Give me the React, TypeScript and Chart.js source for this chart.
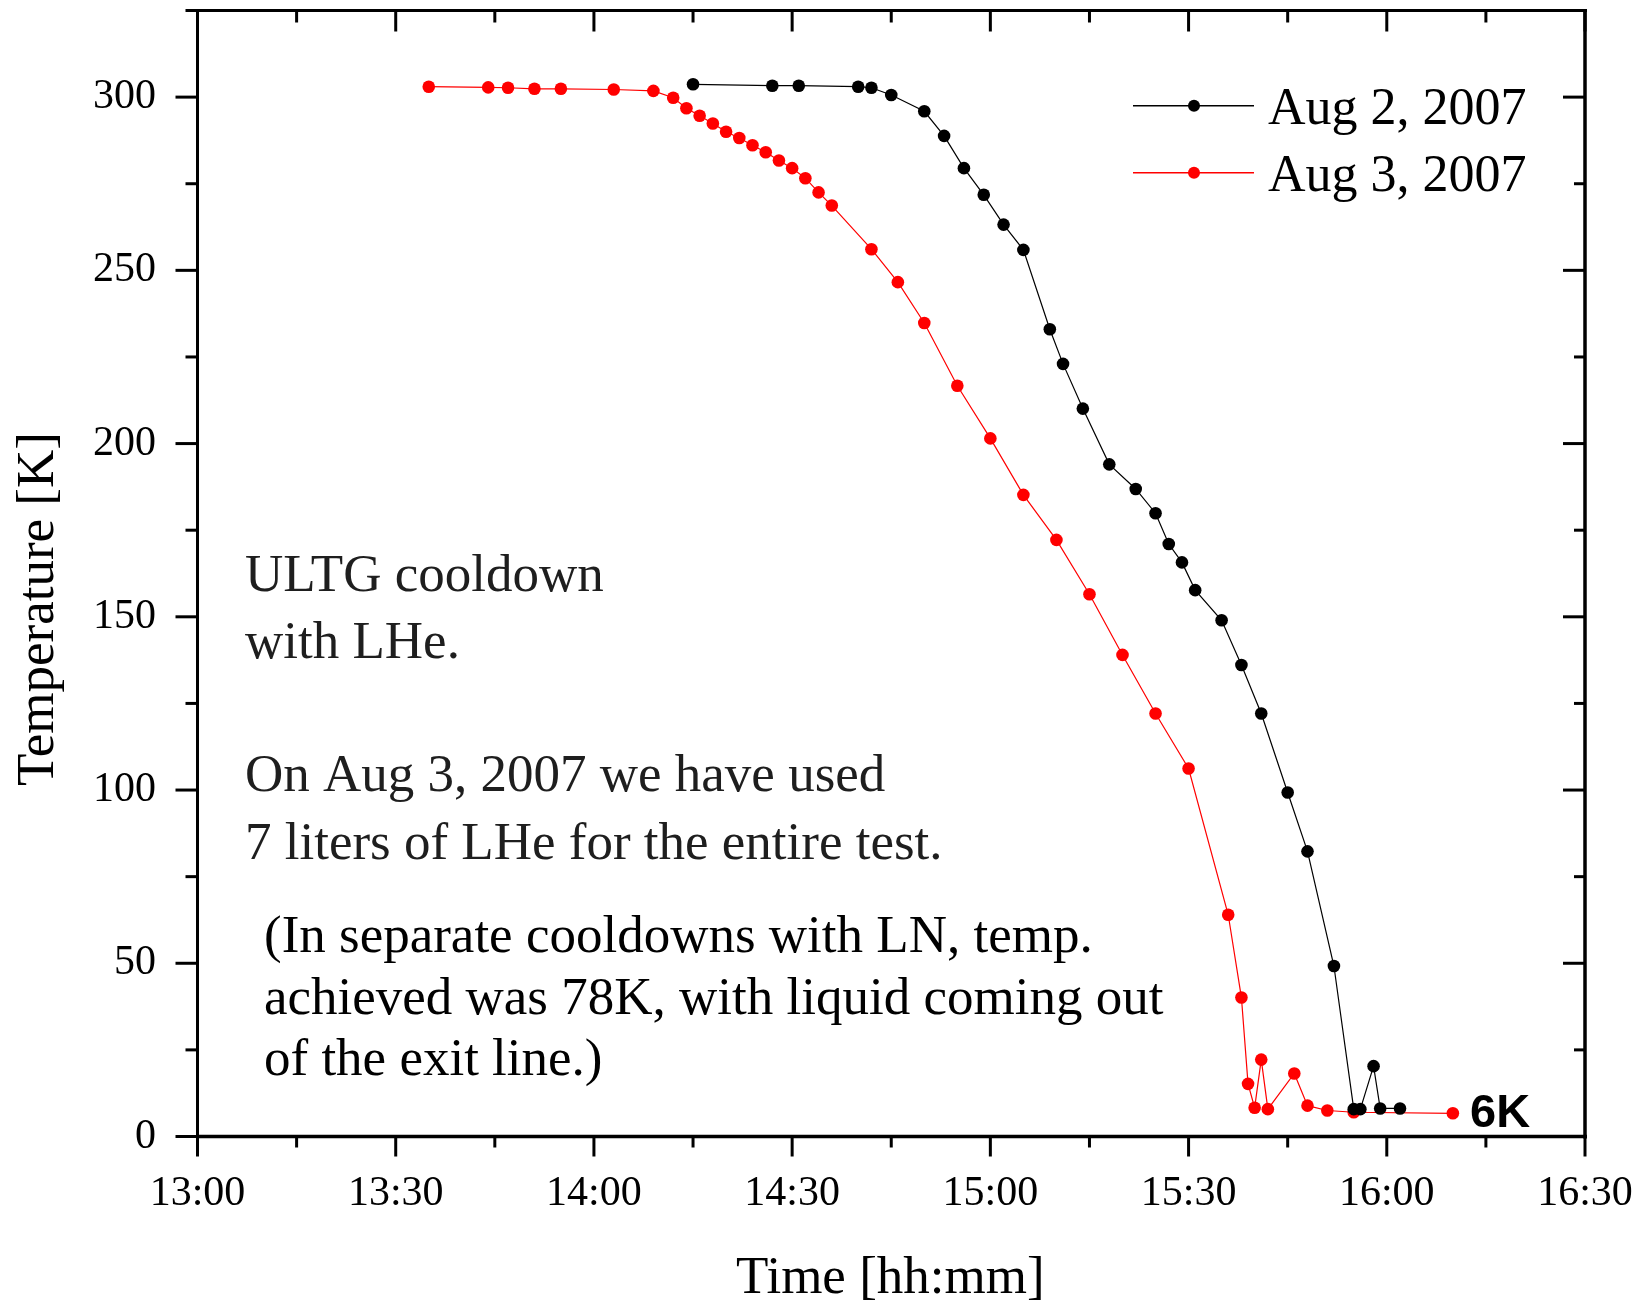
import React, { useEffect, useRef } from 'react';
import { Chart, registerables } from 'chart.js';

Chart.register(...registerables);

// Cooldown runs: clock time (hh:mm) and measured temperature [K]
const aug2Times = [
  '14:15', '14:27', '14:31', '14:40', '14:42', '14:45', '14:50', '14:53', '14:56', '14:59',
  '15:02', '15:05', '15:09', '15:11', '15:14', '15:18', '15:22', '15:25', '15:27', '15:29',
  '15:31', '15:35', '15:38', '15:41', '15:45', '15:48', '15:52', '15:55', '15:56', '15:58',
  '15:59', '16:02',
];
const aug2Temps = [
  303.7, 303.3, 303.3, 303.0, 302.7, 300.6, 295.9, 288.8, 279.5, 271.8,
  263.2, 255.9, 233.0, 223.0, 210.1, 194.0, 186.9, 179.9, 171.0, 165.7,
  157.7, 149.0, 136.1, 122.1, 99.3, 82.3, 49.2, 7.9, 7.9, 20.3,
  8.1, 8.1,
];

const aug3Times = [
  '13:35', '13:44', '13:47', '13:51', '13:55', '14:03', '14:09', '14:12', '14:14', '14:16',
  '14:18', '14:20', '14:22', '14:24', '14:26', '14:28', '14:30', '14:32', '14:34', '14:36',
  '14:42', '14:46', '14:50', '14:55', '15:00', '15:05', '15:10', '15:15', '15:20', '15:25',
  '15:30', '15:36', '15:38', '15:39', '15:40', '15:41', '15:42', '15:46', '15:48', '15:51',
  '15:55', '16:10',
];
const aug3Temps = [
  303.0, 302.8, 302.7, 302.4, 302.4, 302.2, 301.8, 299.8, 296.8, 294.6,
  292.4, 290.0, 288.2, 286.1, 284.1, 281.7, 279.5, 276.6, 272.5, 268.7,
  256.1, 246.6, 234.8, 216.7, 201.5, 185.2, 172.2, 156.5, 139.0, 122.1,
  106.2, 64.0, 40.1, 15.2, 8.3, 22.2, 7.9, 18.2, 8.9, 7.5,
  7.0, 6.7,
];

const seriesLabels = ['Aug 2, 2007', 'Aug 3, 2007'];
const seriesColors = ['#000000', '#ff0000'];

const xTickLabels = ['13:00', '13:30', '14:00', '14:30', '15:00', '15:30', '16:00', '16:30'];
const xMinorTickLabels = ['13:15', '13:45', '14:15', '14:45', '15:15', '15:45', '16:15'];
const yTickValues = [0, 50, 100, 150, 200, 250, 300];
const yMinorTickValues = [25, 75, 125, 175, 225, 275, 325];

const xTitle = 'Time [hh:mm]';
const yTitle = 'Temperature [K]';
const noteLinesA = [
  'ULTG cooldown',
  'with LHe.',
  '',
  'On Aug 3, 2007 we have used',
  '7 liters of LHe for the entire test.',
];
const noteLinesB = [
  '(In separate cooldowns with LN, temp.',
  'achieved was 78K, with liquid coming out',
  'of the exit line.)',
];
const finalTempLabel = '6K';

const toMinutes = (t: string) => {
  const [h, m] = t.split(':').map(Number);
  return h * 60 + m;
};
const fmtMinutes = (v: number) => {
  const h = Math.floor(v / 60);
  const m = Math.round(v - h * 60);
  return `${h}:${m < 10 ? '0' : ''}${m}`;
};

const SERIF = '"Liberation Serif", "Times New Roman", serif';

const framePlugin = {
  id: 'frameAndNotes',
  afterDraw(chart: any) {
    const { ctx, chartArea, scales } = chart;
    const { left, right, top, bottom } = chartArea;
    const xs = scales.x;
    const ys = scales.y;
    ctx.save();
    ctx.strokeStyle = '#000';
    ctx.lineCap = 'butt';
    const seg = (x1: number, y1: number, x2: number, y2: number, w: number) => {
      ctx.lineWidth = w;
      ctx.beginPath();
      ctx.moveTo(x1, y1);
      ctx.lineTo(x2, y2);
      ctx.stroke();
    };
    // frame
    seg(left - 1.5, top, right + 2, top, 3);
    seg(left, top - 1.5, left, bottom + 2, 3);
    seg(left - 1.5, bottom, right + 2, bottom, 3.5);
    seg(right, top - 1.5, right, bottom + 2, 3.5);

    // x ticks: outward at bottom, inward at top
    xTickLabels.forEach((t) => {
      const px = xs.getPixelForValue(toMinutes(t));
      seg(px, bottom, px, bottom + 20, 3);
      seg(px, top, px, top + 21, 3);
    });
    xMinorTickLabels.forEach((t) => {
      const px = xs.getPixelForValue(toMinutes(t));
      seg(px, bottom, px, bottom + 11, 3);
      seg(px, top, px, top + 12, 3);
    });
    // y ticks: outward at left, inward at right
    yTickValues.forEach((v) => {
      const py = ys.getPixelForValue(v);
      seg(left - 22, py, left, py, 3);
      seg(right - 22, py, right, py, 3);
    });
    yMinorTickValues.forEach((v) => {
      const py = ys.getPixelForValue(v);
      seg(left - 12, py, left, py, 3);
      seg(right - 11, py, right, py, 3);
    });

    // axis titles
    ctx.fillStyle = '#000';
    ctx.font = `53px ${SERIF}`;
    ctx.textAlign = 'center';
    ctx.textBaseline = 'alphabetic';
    ctx.fillText(xTitle, (left + right) / 2 - 1, 1293);
    ctx.save();
    ctx.translate(53, 609);
    ctx.rotate(-Math.PI / 2);
    ctx.fillText(yTitle, 0, 0);
    ctx.restore();

    // legend
    const legendRows = [105.7, 172.7];
    const textBase = [123.5, 190.5];
    seriesLabels.forEach((label, i) => {
      const y = legendRows[i];
      ctx.strokeStyle = seriesColors[i];
      seg(1133, y, 1254, y, 1.5);
      ctx.fillStyle = seriesColors[i];
      ctx.beginPath();
      ctx.arc(1194, y, 6, 0, Math.PI * 2);
      ctx.fill();
      ctx.fillStyle = '#000';
      ctx.font = `52px ${SERIF}`;
      ctx.textAlign = 'left';
      ctx.fillText(label, 1268, textBase[i]);
    });

    // notes
    ctx.textAlign = 'left';
    ctx.font = `53px ${SERIF}`;
    ctx.fillStyle = '#1e1e1e';
    const baseA = [591, 657.5, 0, 790.5, 858.5];
    noteLinesA.forEach((line, i) => {
      if (line) ctx.fillText(line, 245, baseA[i]);
    });
    ctx.fillStyle = '#000';
    const baseB = [952, 1013.5, 1075];
    noteLinesB.forEach((line, i) => ctx.fillText(line, 264, baseB[i]));

    // final temperature label
    ctx.font = 'bold 47px "Liberation Sans", Arial, sans-serif';
    ctx.fillText(finalTempLabel, 1470, 1127);
    ctx.restore();
  },
};

export default function App() {
  const canvasRef = useRef<HTMLCanvasElement | null>(null);

  useEffect(() => {
    if (!canvasRef.current) return;
    const makeSeries = (times: string[], temps: number[]) =>
      times.map((t, i) => ({ x: toMinutes(t), y: temps[i] }));

    const chart = new Chart(canvasRef.current, {
      type: 'scatter',
      data: {
        datasets: [
          {
            label: seriesLabels[0],
            data: makeSeries(aug2Times, aug2Temps),
            showLine: true,
            borderColor: seriesColors[0],
            backgroundColor: seriesColors[0],
            borderWidth: 1.2,
            pointRadius: 6.3,
            pointBorderWidth: 0,
            pointBackgroundColor: seriesColors[0],
            clip: false,
          },
          {
            label: seriesLabels[1],
            data: makeSeries(aug3Times, aug3Temps),
            showLine: true,
            borderColor: seriesColors[1],
            backgroundColor: seriesColors[1],
            borderWidth: 1.2,
            pointRadius: 6.3,
            pointBorderWidth: 0,
            pointBackgroundColor: seriesColors[1],
            clip: false,
          },
        ],
      },
      options: {
        responsive: false,
        maintainAspectRatio: false,
        devicePixelRatio: 1,
        animation: false,
        layout: { padding: { top: 10.5, right: 57, left: 0, bottom: 0 } },
        plugins: {
          legend: { display: false },
          tooltip: { enabled: false },
        },
        scales: {
          x: {
            type: 'linear',
            min: toMinutes(xTickLabels[0]),
            max: toMinutes(xTickLabels[xTickLabels.length - 1]),
            grid: { display: false, drawTicks: false },
            border: { display: false },
            afterBuildTicks: (scale: any) => {
              scale.ticks = xTickLabels.map((t) => ({ value: toMinutes(t) }));
            },
            afterFit: (scale: any) => {
              scale.height = 165.5;
              scale.paddingLeft = 0;
              scale.paddingRight = 0;
              scale.paddingTop = 0;
              scale.paddingBottom = 0;
            },
            ticks: {
              autoSkip: false,
              maxRotation: 0,
              padding: 32,
              color: '#000',
              font: { family: SERIF, size: 42 },
              callback: (v: any) => fmtMinutes(Number(v)),
            },
          },
          y: {
            type: 'linear',
            min: 0,
            max: 325,
            grid: { display: false, drawTicks: false },
            border: { display: false },
            afterBuildTicks: (scale: any) => {
              scale.ticks = yTickValues.map((v) => ({ value: v }));
            },
            afterFit: (scale: any) => {
              scale.width = 197.5;
              scale.paddingLeft = 0;
              scale.paddingRight = 0;
              scale.paddingTop = 0;
              scale.paddingBottom = 0;
            },
            ticks: {
              padding: 41.5,
              color: '#000',
              font: { family: SERIF, size: 42 },
              callback: (v: any) => String(v),
            },
          },
        },
      },
      plugins: [framePlugin],
    } as any);

    return () => chart.destroy();
  }, []);

  return (
    <div style={{ position: 'fixed', left: 0, top: 0, width: 1642, height: 1302, background: '#fff' }}>
      <canvas ref={canvasRef} width={1642} height={1302} style={{ display: 'block' }} />
    </div>
  );
}
